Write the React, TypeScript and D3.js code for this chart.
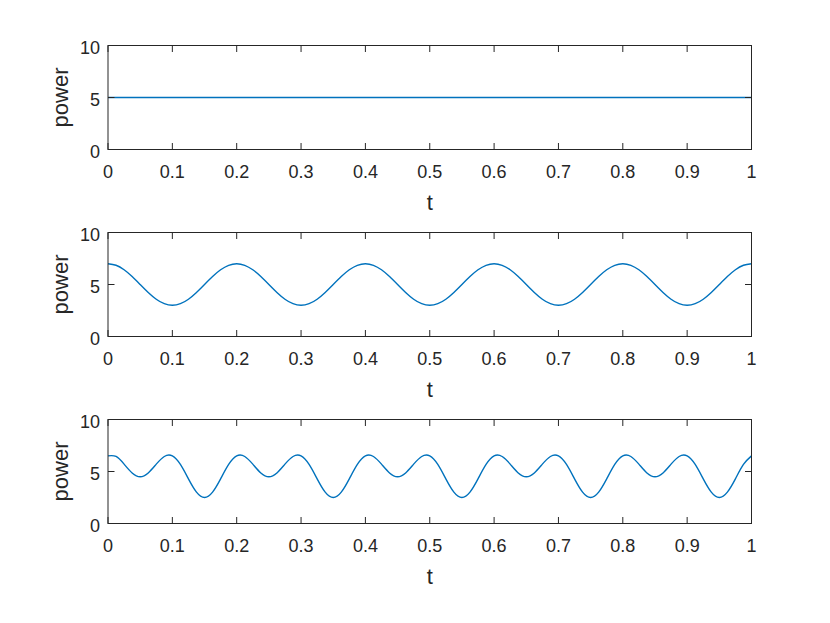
import React from "react";
import * as d3 from "d3";

const tValues: number[] = [
  0, 0.0125, 0.025, 0.0375, 0.05, 0.0625, 0.075, 0.0875, 0.1, 0.1125, 0.125, 0.1375, 0.15, 0.1625, 0.175, 0.1875,
  0.2, 0.2125, 0.225, 0.2375, 0.25, 0.2625, 0.275, 0.2875, 0.3, 0.3125, 0.325, 0.3375, 0.35, 0.3625, 0.375, 0.3875,
  0.4, 0.4125, 0.425, 0.4375, 0.45, 0.4625, 0.475, 0.4875, 0.5, 0.5125, 0.525, 0.5375, 0.55, 0.5625, 0.575, 0.5875,
  0.6, 0.6125, 0.625, 0.6375, 0.65, 0.6625, 0.675, 0.6875, 0.7, 0.7125, 0.725, 0.7375, 0.75, 0.7625, 0.775, 0.7875,
  0.8, 0.8125, 0.825, 0.8375, 0.85, 0.8625, 0.875, 0.8875, 0.9, 0.9125, 0.925, 0.9375, 0.95, 0.9625, 0.975, 0.9875,
  1,
];

const power1: number[] = tValues.map(() => 5);

const power2: number[] = [
  7, 6.848, 6.414, 5.765, 5, 4.235, 3.586, 3.152, 3, 3.152, 3.586, 4.235, 5, 5.765, 6.414, 6.848,
  7, 6.848, 6.414, 5.765, 5, 4.235, 3.586, 3.152, 3, 3.152, 3.586, 4.235, 5, 5.765, 6.414, 6.848,
  7, 6.848, 6.414, 5.765, 5, 4.235, 3.586, 3.152, 3, 3.152, 3.586, 4.235, 5, 5.765, 6.414, 6.848,
  7, 6.848, 6.414, 5.765, 5, 4.235, 3.586, 3.152, 3, 3.152, 3.586, 4.235, 5, 5.765, 6.414, 6.848,
  7, 6.848, 6.414, 5.765, 5, 4.235, 3.586, 3.152, 3, 3.152, 3.586, 4.235, 5, 5.765, 6.414, 6.848,
  7,
];

const power3: number[] = [
  6.5, 6.443, 5.707, 4.863, 4.5, 4.863, 5.707, 6.443, 6.5, 5.678, 4.293, 3.015, 2.5, 3.015, 4.293, 5.678,
  6.5, 6.443, 5.707, 4.863, 4.5, 4.863, 5.707, 6.443, 6.5, 5.678, 4.293, 3.015, 2.5, 3.015, 4.293, 5.678,
  6.5, 6.443, 5.707, 4.863, 4.5, 4.863, 5.707, 6.443, 6.5, 5.678, 4.293, 3.015, 2.5, 3.015, 4.293, 5.678,
  6.5, 6.443, 5.707, 4.863, 4.5, 4.863, 5.707, 6.443, 6.5, 5.678, 4.293, 3.015, 2.5, 3.015, 4.293, 5.678,
  6.5, 6.443, 5.707, 4.863, 4.5, 4.863, 5.707, 6.443, 6.5, 5.678, 4.293, 3.015, 2.5, 3.015, 4.293, 5.678,
  6.5,
];

const xTicks: number[] = [0, 0.1, 0.2, 0.3, 0.4, 0.5, 0.6, 0.7, 0.8, 0.9, 1];
const xTickLabels: string[] = ["0", "0.1", "0.2", "0.3", "0.4", "0.5", "0.6", "0.7", "0.8", "0.9", "1"];
const yTicks: number[] = [0, 5, 10];
const yTickLabels: string[] = ["0", "5", "10"];
const series: number[][] = [power1, power2, power3];
const xLabel = "t";
const yLabel = "power";

const W = 830;
const H = 623;
const left = 108;
const right = 751.5;
const panelTops = [45.5, 232.5, 419.5];
const panelH = 104;
const axisColor = "#262626";
const lineColor = "#0072BD";
const font = "'Liberation Sans', Arial, Helvetica, sans-serif";

function Panel({ top, values }: { top: number; values: number[] }) {
  const x = d3.scaleLinear().domain([0, 1]).range([left, right]);
  const y = d3.scaleLinear().domain([0, 10]).range([top + panelH, top]);
  const line = d3
    .line<number>()
    .x((_, i) => x(tValues[i]))
    .y((d) => y(d))
    .curve(d3.curveNatural);
  const tk = 6.5;
  const bottom = top + panelH;
  return (
    <g>
      <path d={line(values) || ""} fill="none" stroke={lineColor} strokeWidth={1.4} />
      <rect x={left} y={top} width={right - left} height={panelH} fill="none" stroke={axisColor} strokeWidth={1} />
      {xTicks.map((t, i) => (
        <g key={"x" + i}>
          <line x1={x(t)} x2={x(t)} y1={bottom} y2={bottom - tk} stroke={axisColor} />
          <line x1={x(t)} x2={x(t)} y1={top} y2={top + tk} stroke={axisColor} />
          <text x={x(t)} y={bottom + 28} textAnchor="middle" fontSize={18} fill={axisColor} fontFamily={font}>
            {xTickLabels[i]}
          </text>
        </g>
      ))}
      {yTicks.map((v, i) => (
        <g key={"y" + i}>
          <line x1={left} x2={left + tk} y1={y(v)} y2={y(v)} stroke={axisColor} />
          <line x1={right} x2={right - tk} y1={y(v)} y2={y(v)} stroke={axisColor} />
          <text x={left - 8} y={y(v) + 8.5} textAnchor="end" fontSize={18} fill={axisColor} fontFamily={font}>
            {yTickLabels[i]}
          </text>
        </g>
      ))}
      <text x={(left + right) / 2} y={bottom + 60} textAnchor="middle" fontSize={22} fill={axisColor} fontFamily={font}>
        {xLabel}
      </text>
      <text
        transform={`translate(${68},${top + panelH / 2}) rotate(-90)`}
        textAnchor="middle"
        fontSize={22}
        fill={axisColor}
        fontFamily={font}
      >
        {yLabel}
      </text>
    </g>
  );
}

export default function App() {
  return (
    <svg width={W} height={H} style={{ display: "block", position: "absolute", left: 0, top: 0, background: "#fff" }}>
      <rect width={W} height={H} fill="#fff" />
      {series.map((vals, i) => (
        <Panel key={i} top={panelTops[i]} values={vals} />
      ))}
    </svg>
  );
}
